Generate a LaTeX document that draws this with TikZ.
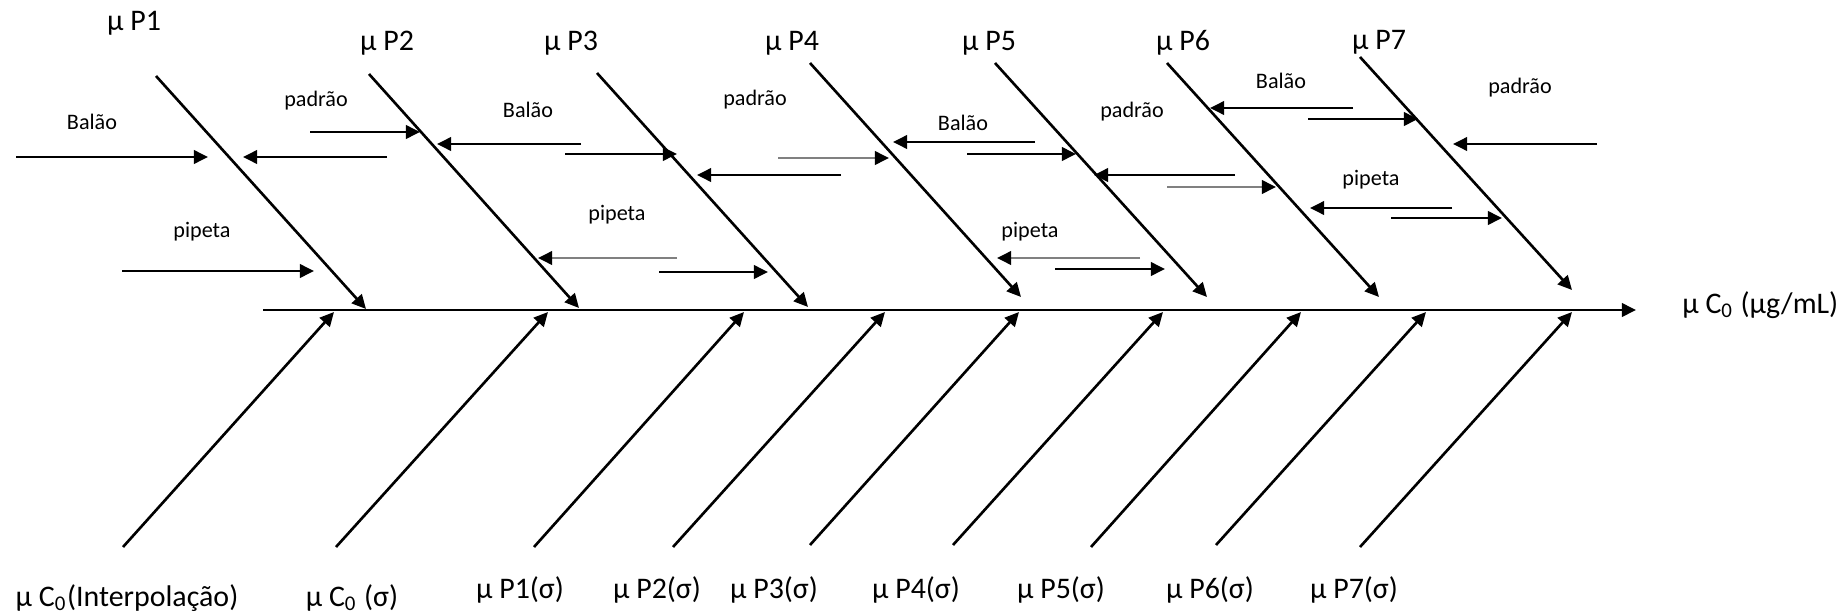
\documentclass[tikz,border=0pt]{standalone}
\usepackage{fontspec}
\setmainfont{Carlito}
\usetikzlibrary{arrows.meta,positioning}

\begin{document}
\begin{tikzpicture} [
    x=0.01cm, y=-0.01cm,
    every path/.style={line width=0.75pt},
    factor/.style={inner sep=0pt, font=\fontsize{8.5}{10}\selectfont},
    source/.style={inner sep=0pt, font=\fontsize{6.3}{7.5}\selectfont},
    faded/.style={draw=black!50},
    >={Triangle[length=4pt,width=3.8pt,color=black]}
    ]
    \useasboundingbox (0,0) rectangle (1845,615);
    %Spine
    \coordinate (s0) at (263,310);
    \coordinate (s1) at (1636,310);
    \node[factor, anchor=west] (c0) at (1681,305) {μ C\textsubscript{0} (μg/mL)};
    \draw[->] (s0) -- (s1);
    %Top bones
    \coordinate (t1) at (156,76);   \coordinate (e1) at (366,309);
    \coordinate (t2) at (369,74);   \coordinate (e2) at (579,308);
    \coordinate (t3) at (597,73);   \coordinate (e3) at (808,307);
    \coordinate (t4) at (810,63);   \coordinate (e4) at (1021,297);
    \coordinate (t5) at (995,63);   \coordinate (e5) at (1207,297);
    \coordinate (t6) at (1167,63);  \coordinate (e6) at (1379,297);
    \coordinate (t7) at (1360,57);  \coordinate (e7) at (1572,290);
    \draw[->] (t1) -- (e1);
    \draw[->] (t2) -- (e2);
    \draw[->] (t3) -- (e3);
    \draw[->] (t4) -- (e4);
    \draw[->] (t5) -- (e5);
    \draw[->] (t6) -- (e6);
    \draw[->] (t7) -- (e7);
    \node[factor] (p1) at (134,23) {μ P1};
    \node[factor] (p2) at (387,43) {μ P2};
    \node[factor] (p3) at (571,43) {μ P3};
    \node[factor] (p4) at (792,43) {μ P4};
    \node[factor] (p5) at (989,43) {μ P5};
    \node[factor] (p6) at (1183,43) {μ P6};
    \node[factor] (p7) at (1379,42) {μ P7};
    %Bottom bones
    \coordinate (b1) at (123,547);  \coordinate (f1) at (334,312);
    \coordinate (b2) at (336,547);  \coordinate (f2) at (548,312);
    \coordinate (b3) at (534,547);  \coordinate (f3) at (744,312);
    \coordinate (b4) at (673,547);  \coordinate (f4) at (885,312);
    \coordinate (b5) at (810,545);  \coordinate (f5) at (1019,312);
    \coordinate (b6) at (953,545);  \coordinate (f6) at (1163,312);
    \coordinate (b7) at (1091,547); \coordinate (f7) at (1301,312);
    \coordinate (b8) at (1216,545); \coordinate (f8) at (1426,312);
    \coordinate (b9) at (1360,547); \coordinate (f9) at (1572,312);
    \draw[->] (b1) -- (f1);
    \draw[->] (b2) -- (f2);
    \draw[->] (b3) -- (f3);
    \draw[->] (b4) -- (f4);
    \draw[->] (b5) -- (f5);
    \draw[->] (b6) -- (f6);
    \draw[->] (b7) -- (f7);
    \draw[->] (b8) -- (f8);
    \draw[->] (b9) -- (f9);
    \node[factor] (sd0) at (127,598) {μ C\textsubscript{0}(Interpolação)};
    \node[factor] (sd1) at (352,598) {μ C\textsubscript{0} (σ)};
    \node[factor] (sd2) at (520,590) {μ P1(σ)};
    \node[factor] (sd3) at (657,590) {μ P2(σ)};
    \node[factor] (sd4) at (774,590) {μ P3(σ)};
    \node[factor] (sd5) at (916,590) {μ P4(σ)};
    \node[factor] (sd6) at (1061,590) {μ P5(σ)};
    \node[factor] (sd7) at (1210,590) {μ P6(σ)};
    \node[factor] (sd8) at (1354,590) {μ P7(σ)};
    %Sources
    \node[source] (bal1) at (92,122)  {Balão};
    \node[source] (pad1) at (316,101) {padrão};
    \node[source] (bal2) at (528,110) {Balão};
    \node[source] (pip1) at (202,232) {pipeta};
    \node[source] (pip2) at (617,215) {pipeta};
    \node[source] (pad2) at (755,100) {padrão};
    \node[source] (bal3) at (963,123) {Balão};
    \node[source] (pad3) at (1132,112) {padrão};
    \node[source] (pip3) at (1030,232) {pipeta};
    \node[source] (bal4) at (1281,81) {Balão};
    \node[source] (pad4) at (1520,88) {padrão};
    \node[source] (pip4) at (1371,180) {pipeta};
    \coordinate (a1s) at (16,157);    \coordinate (a1t) at (208,157);
    \coordinate (a2s) at (387,157);   \coordinate (a2t) at (243,157);
    \coordinate (a3s) at (310,132);   \coordinate (a3t) at (420,132);
    \coordinate (a4s) at (581,144);   \coordinate (a4t) at (437,144);
    \coordinate (a5s) at (565,154);   \coordinate (a5t) at (677,154);
    \coordinate (a6s) at (122,271);   \coordinate (a6t) at (314,271);
    \coordinate (a7s) at (677,258);   \coordinate (a7t) at (538,258);
    \coordinate (a8s) at (841,175);   \coordinate (a8t) at (697,175);
    \coordinate (a9s) at (659,272);   \coordinate (a9t) at (768,272);
    \coordinate (a10s) at (778,158);  \coordinate (a10t) at (889,158);
    \coordinate (a11s) at (1035,142); \coordinate (a11t) at (893,142);
    \coordinate (a12s) at (967,154);  \coordinate (a12t) at (1076,154);
    \coordinate (a13s) at (1235,175); \coordinate (a13t) at (1094,175);
    \coordinate (a14s) at (1140,258); \coordinate (a14t) at (997,258);
    \coordinate (a15s) at (1055,269); \coordinate (a15t) at (1165,269);
    \coordinate (a16s) at (1167,187); \coordinate (a16t) at (1276,187);
    \coordinate (a17s) at (1353,108); \coordinate (a17t) at (1210,108);
    \coordinate (a18s) at (1308,119); \coordinate (a18t) at (1418,119);
    \coordinate (a19s) at (1597,144); \coordinate (a19t) at (1453,144);
    \coordinate (a20s) at (1452,208); \coordinate (a20t) at (1310,208);
    \coordinate (a21s) at (1391,218); \coordinate (a21t) at (1502,218);
    \draw[->] (a1s) -- (a1t);
    \draw[->] (a2s) -- (a2t);
    \draw[->] (a3s) -- (a3t);
    \draw[->] (a4s) -- (a4t);
    \draw[->] (a5s) -- (a5t);
    \draw[->] (a6s) -- (a6t);
    \draw[->, faded] (a7s) -- (a7t);
    \draw[->] (a8s) -- (a8t);
    \draw[->] (a9s) -- (a9t);
    \draw[->, faded] (a10s) -- (a10t);
    \draw[->] (a11s) -- (a11t);
    \draw[->] (a12s) -- (a12t);
    \draw[->] (a13s) -- (a13t);
    \draw[->, faded] (a14s) -- (a14t);
    \draw[->] (a15s) -- (a15t);
    \draw[->, faded] (a16s) -- (a16t);
    \draw[->] (a17s) -- (a17t);
    \draw[->] (a18s) -- (a18t);
    \draw[->] (a19s) -- (a19t);
    \draw[->] (a20s) -- (a20t);
    \draw[->] (a21s) -- (a21t);
\end{tikzpicture}
\end{document}
